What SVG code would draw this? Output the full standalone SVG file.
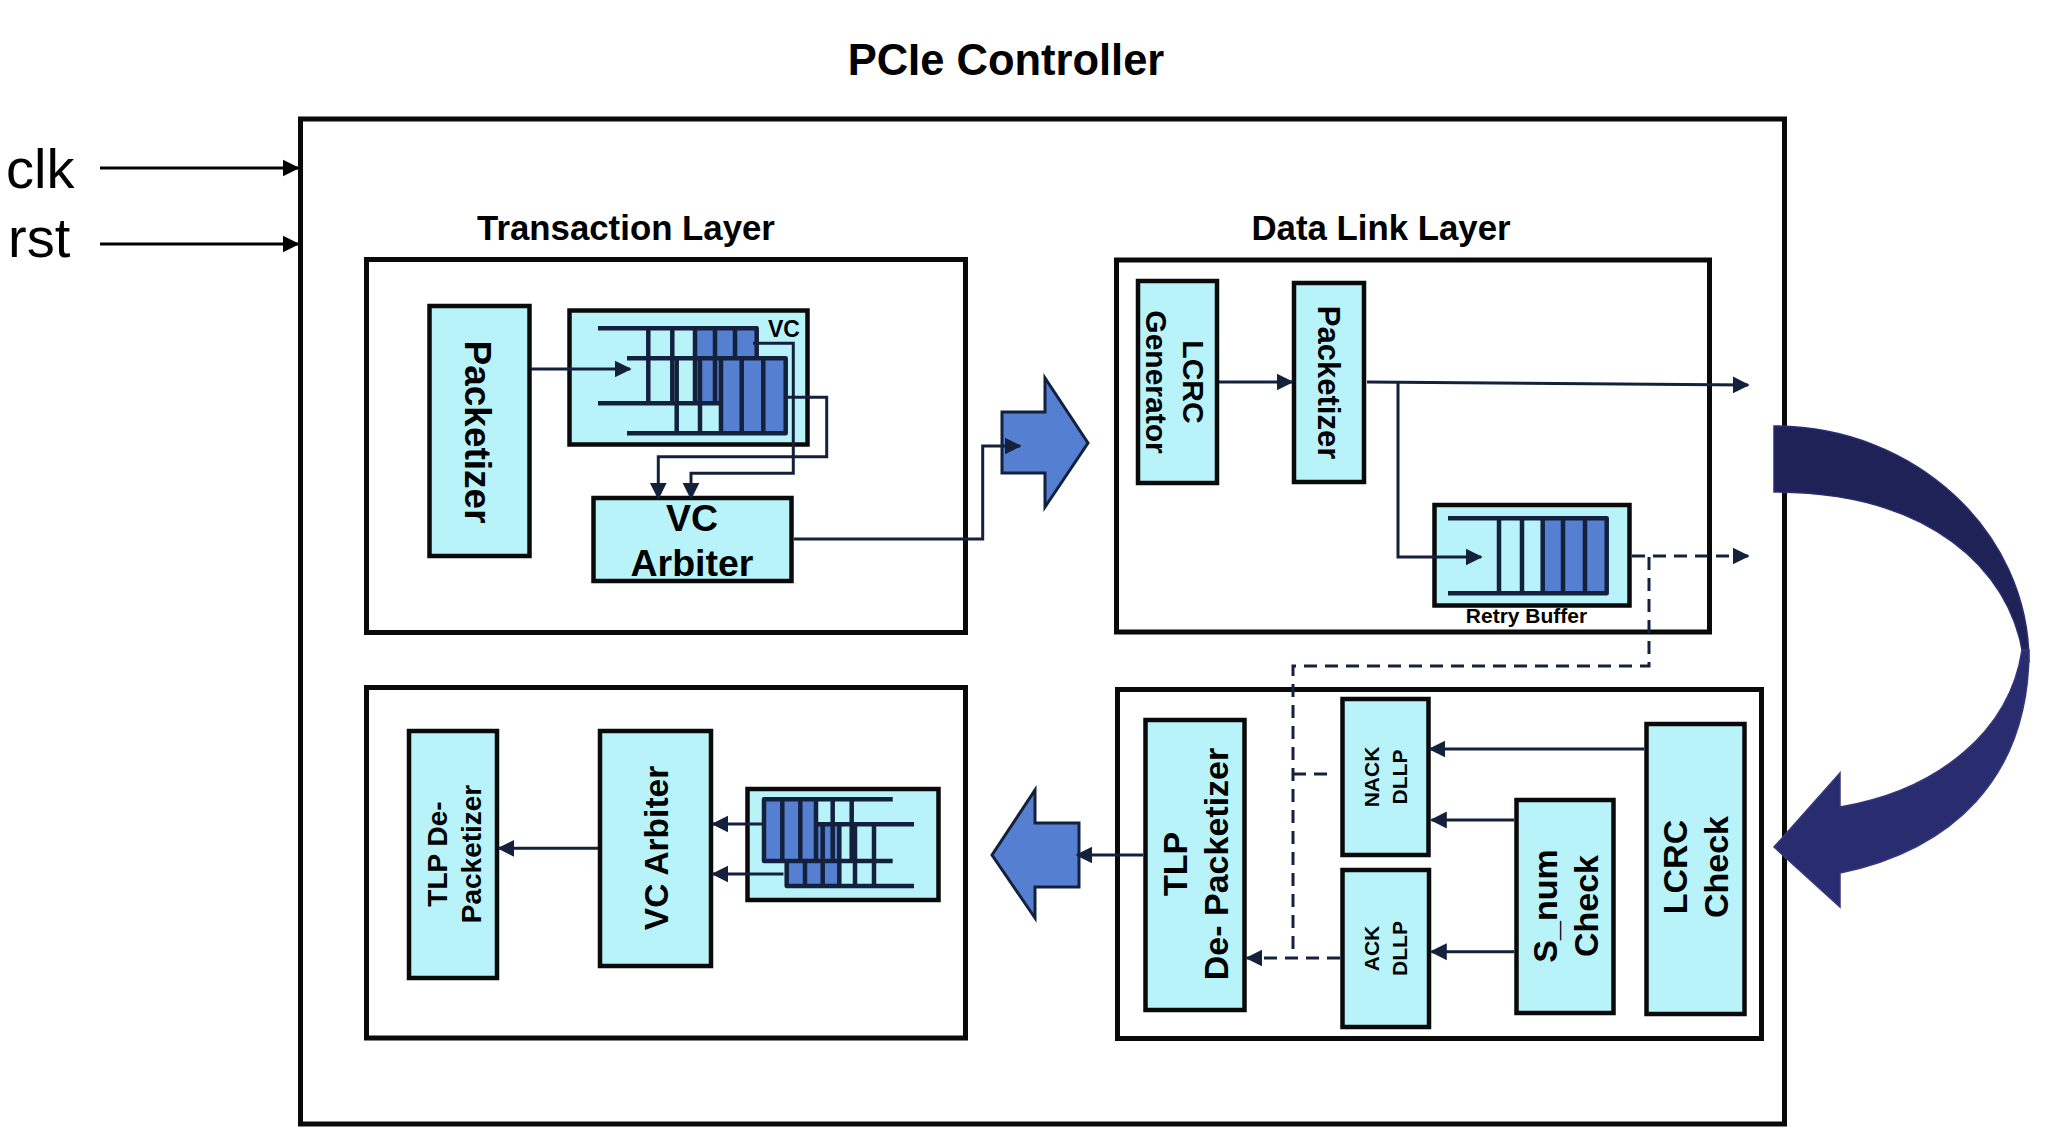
<svg xmlns="http://www.w3.org/2000/svg" width="2055" height="1147" viewBox="0 0 2055 1147">
<style>
.box{fill:#fff;stroke:#0a0a0a;stroke-width:5}
.blk{fill:#b9f3fa;stroke:#0a0a0a;stroke-width:4.5}
.t{font-family:"Liberation Sans",Arial,sans-serif;font-weight:bold;fill:#000}
.r{font-family:"Liberation Sans",Arial,sans-serif;fill:#000}
.c{fill:none;stroke:#14213d;stroke-width:3}
.d{fill:none;stroke:#14213d;stroke-width:3;stroke-dasharray:13 8}
.q{fill:none;stroke:#14213d;stroke-width:4.5;stroke-linejoin:round}
.qb{fill:#557fd1}
.big{fill:#557fd1;stroke:#14213d;stroke-width:3;stroke-linejoin:miter}
</style>
<defs>
<marker id="ah" viewBox="0 0 10 10" refX="9" refY="5" markerWidth="17" markerHeight="18" markerUnits="userSpaceOnUse" orient="auto"><path d="M0,0 L10,5 L0,10 Z" fill="#14213d"/></marker>
<marker id="ahk" viewBox="0 0 10 10" refX="9" refY="5" markerWidth="17" markerHeight="18" markerUnits="userSpaceOnUse" orient="auto"><path d="M0,0 L10,5 L0,10 Z" fill="#000"/></marker>
</defs>
<rect width="2055" height="1147" fill="#fff"/>

<text class="t" x="1006" y="75" font-size="43.5" text-anchor="middle">PCIe Controller</text>

<g id="inputs">
<text class="r" x="6" y="188" font-size="56">clk</text>
<text class="r" x="8" y="257" font-size="56">rst</text>
</g>

<g id="controller">
<rect class="box" x="300.5" y="119" width="1484" height="1005"/>
</g>

<g id="transaction-layer-tx">
<text class="t" x="626" y="240" font-size="34.8" text-anchor="middle">Transaction Layer</text>
<rect class="box" x="366.5" y="259.5" width="599" height="373"/>
</g>
<g id="data-link-layer-tx">
<text class="t" x="1381" y="240" font-size="34.8" text-anchor="middle">Data Link Layer</text>
<rect class="box" x="1116.5" y="260" width="593" height="372"/>
</g>
<g id="transaction-layer-rx">
<rect class="box" x="366.5" y="687.5" width="599" height="350.5"/>
</g>
<g id="data-link-layer-rx">
<rect class="box" x="1117.5" y="689.5" width="644" height="349"/>
</g>

<g id="tl-packetizer">
<rect class="blk" x="429.5" y="306" width="100" height="250"/>
<text class="t" font-size="37" text-anchor="middle" transform="translate(478,432) rotate(90)" y="13">Packetizer</text>
</g>

<g id="tl-vc-queue">
<rect class="blk" x="569.5" y="310.5" width="238" height="134" stroke-width="5"/>
<text class="t" x="784" y="337" font-size="23" text-anchor="middle">VC</text>
<rect class="qb" x="695" y="328" width="62" height="75"/>
<path class="q" d="M598,328.3 H756.7 V403.3 H598 M648.3,328.3 V403.3 M672.3,328.3 V403.3 M695,328.3 V403.3 M715,328.3 V403.3 M735,328.3 V403.3"/>
<rect class="qb" x="721" y="358.3" width="64.7" height="75"/>
<path class="q" d="M627,358.3 H785.7 V433.3 H627 M676.7,358.3 V433.3 M700,358.3 V433.3 M721,358.3 V433.3 M741.7,358.3 V433.3 M763.3,358.3 V433.3"/>
</g>

<g id="tl-vc-arbiter">
<rect class="blk" x="593.5" y="498" width="198" height="83"/>
<text class="t" x="692" y="531" font-size="37.5" text-anchor="middle">VC</text>
<text class="t" x="692" y="576" font-size="37.5" text-anchor="middle">Arbiter</text>
</g>

<g id="tx-arrow">
<path class="big" d="M1002,412 H1045 V378 L1088,443 L1045,507 V473 H1002 Z"/>
</g>
<g id="rx-arrow">
<path class="big" d="M1079,823 H1035 V790 L992,855 L1035,918 V887 H1079 Z"/>
</g>

<g id="lcrc-generator">
<rect class="blk" x="1138" y="281" width="79" height="202"/>
<text class="t" font-size="30" text-anchor="middle" transform="translate(1175.5,382) rotate(90)"><tspan x="0" y="-7.5">LCRC</tspan><tspan x="0" y="29.5">Generator</tspan></text>
</g>

<g id="dll-packetizer">
<rect class="blk" x="1294" y="283" width="70" height="199"/>
<text class="t" font-size="31" text-anchor="middle" transform="translate(1329,382.5) rotate(90)" y="11">Packetizer</text>
</g>

<g id="retry-buffer">
<rect class="blk" x="1434.5" y="505" width="195" height="100.5" stroke-width="5"/>
<rect class="qb" x="1542.7" y="518.3" width="64" height="75"/>
<path class="q" d="M1448,518.3 H1606.7 V593.3 H1448 M1499,518.3 V593.3 M1522,518.3 V593.3 M1542.7,518.3 V593.3 M1563,518.3 V593.3 M1585,518.3 V593.3"/>
<text class="t" x="1526.5" y="623" font-size="21" text-anchor="middle">Retry Buffer</text>
</g>

<g id="rx-tlp-depacketizer">
<rect class="blk" x="409" y="731" width="88" height="247"/>
<text class="t" font-size="28" text-anchor="middle" transform="translate(454,854) rotate(-90)"><tspan x="0" y="-7">TLP De-</tspan><tspan x="0" y="27">Packetizer</tspan></text>
</g>

<g id="rx-vc-arbiter">
<rect class="blk" x="600" y="731" width="111" height="235"/>
<text class="t" font-size="33.5" text-anchor="middle" transform="translate(656,848) rotate(-90)" y="12">VC Arbiter</text>
</g>

<g id="rx-vc-queue">
<rect class="blk" x="747.5" y="789" width="191" height="111" stroke-width="5"/>
<rect class="qb" x="786.7" y="824.3" width="52.6" height="61.7"/>
<path class="q" d="M914,824.3 H786.7 V886 H914 M805,824.3 V886 M822.7,824.3 V886 M839.3,824.3 V886 M855,824.3 V886 M874,824.3 V886"/>
<rect class="qb" x="764" y="799.3" width="52" height="61.7"/>
<path class="q" d="M892.7,799.3 H764 V861 H892.7 M782.3,799.3 V861 M800.3,799.3 V861 M816,799.3 V861 M832.7,799.3 V861 M851.7,799.3 V861"/>
</g>

<g id="rx-tlp-depacketizer-dll">
<rect class="blk" x="1145.5" y="720" width="99" height="290"/>
<text class="t" font-size="34" text-anchor="middle" transform="translate(1195,864) rotate(-90)"><tspan x="0" y="-8">TLP</tspan><tspan x="0" y="32.5">De- Packetizer</tspan></text>
</g>

<g id="nack-dllp">
<rect class="blk" x="1342.5" y="699" width="86" height="156"/>
<text class="t" font-size="21" text-anchor="middle" transform="translate(1385.5,777) rotate(-90)"><tspan x="0" y="-6.5">NACK</tspan><tspan x="0" y="21.5">DLLP</tspan></text>
</g>

<g id="ack-dllp">
<rect class="blk" x="1342.5" y="870" width="86.5" height="157"/>
<text class="t" font-size="21" text-anchor="middle" transform="translate(1385.5,948.5) rotate(-90)"><tspan x="0" y="-6.5">ACK</tspan><tspan x="0" y="21.5">DLLP</tspan></text>
</g>

<g id="snum-check">
<rect class="blk" x="1516.5" y="800" width="97" height="213"/>
<text class="t" font-size="34" text-anchor="middle" transform="translate(1565,906) rotate(-90)"><tspan x="0" y="-8.3">S_num</tspan><tspan x="0" y="32.7">Check</tspan></text>
</g>

<g id="lcrc-check">
<rect class="blk" x="1646.5" y="724" width="98" height="290"/>
<text class="t" font-size="34" text-anchor="middle" transform="translate(1695.3,867) rotate(-90)"><tspan x="0" y="-8.5">LCRC</tspan><tspan x="0" y="32.9">Check</tspan></text>
</g>

<g id="link-arrow">
<path d="M1774,426 C1915,426 2029,532 2029,662 C2023,662 2023,655 2023,655 C2010,570 1930,492 1774,492 Z" fill="#1f2257" stroke="#2b2f72" stroke-width="1.5"/>
<path d="M2029,650 C2029,780 1950,850 1840,873 L1840,907 L1774,847 L1840,773 L1840,807 C1940,790 2010,730 2022,650 Z" fill="#292d6f" stroke="#33387c" stroke-width="1.5"/>
</g>

<g id="connectors">
<path d="M100,168 H298" fill="none" stroke="#000" stroke-width="3" marker-end="url(#ahk)"/>
<path d="M100,244 H298" fill="none" stroke="#000" stroke-width="3" marker-end="url(#ahk)"/>
<path class="c" d="M531,369 H630" marker-end="url(#ah)"/>
<path class="c" d="M753,343.3 H793.3 V473.3 H691 V498" marker-end="url(#ah)"/>
<path class="c" d="M788,397.3 H826.7 V456.7 H658.3 V498" marker-end="url(#ah)"/>
<path class="c" d="M794,539 H982.7 V446 H1020" marker-end="url(#ah)"/>
<path class="c" d="M1219,382 H1292" marker-end="url(#ah)"/>
<path class="c" d="M1367,382 L1748,385" marker-end="url(#ah)"/>
<path class="c" d="M1398,383 V557 H1481" marker-end="url(#ah)"/>
<path class="d" d="M1632,556 H1748" marker-end="url(#ah)"/>
<path class="d" d="M1649,557 V666 H1293 V958"/>
<path class="d" d="M1293,774 H1330"/>
<path class="d" d="M1340,958 H1247" marker-end="url(#ah)"/>
<path class="c" d="M1644,749 H1430" marker-end="url(#ah)"/>
<path class="c" d="M1514,820 H1431.5" marker-end="url(#ah)"/>
<path class="c" d="M1514,951.7 H1431.5" marker-end="url(#ah)"/>
<path class="c" d="M1143,855 H1077" marker-end="url(#ah)"/>
<path class="c" d="M762,824 H713" marker-end="url(#ah)"/>
<path class="c" d="M783.5,874 H713" marker-end="url(#ah)"/>
<path class="c" d="M598,848.3 H499" marker-end="url(#ah)"/>
</g>
</svg>
